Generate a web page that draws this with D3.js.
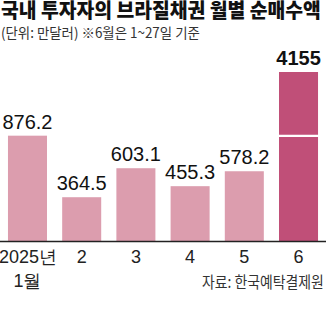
<!DOCTYPE html>
<html>
<head>
<meta charset="utf-8">
<script src="https://cdn.jsdelivr.net/npm/d3@7/dist/d3.min.js"></script>
<style>
html,body{margin:0;padding:0;background:#fff;}
svg{display:block;}
</style>
</head>
<body>
<svg id="chart" width="326" height="335"></svg>
<script>
// ---- data ----
const title = "국내 투자자의 브라질채권 월별 순매수액";
const subtitle = "(단위: 만달러)  ※6월은 1~27일 기준";
const source = "자료: 한국예탁결제원";
const months = ["2025년|1월", "2", "3", "4", "5", "6"];
const values = [876.2, 364.5, 603.1, 455.3, 578.2, 4155];
const valueLabels = ["876.2", "364.5", "603.1", "455.3", "578.2", "4155"];
const highlight = [false, false, false, false, false, true];
const breakValue = 870; // axis break for the tall June bar

// ---- layout ----
const W = 326, H = 335;
const baseY = 241.5;
const pxPerUnit = 0.1215;
const topY = 72;
const numFont = "'Liberation Sans Narrow','Arial Narrow','Liberation Sans',sans-serif";
const korFont = "'Noto Sans CJK KR','Noto Sans',sans-serif";
const colLight = "#dc9dae";
const colDark = "#c04f78";

const svg = d3.select("#chart");

const x = d3.scaleBand().domain(months).range([0, W]).paddingInner(0.28).paddingOuter(0.147);
const y = d3.scaleLinear()
  .domain([0, breakValue, d3.max(values)])
  .range([baseY, baseY - breakValue * pxPerUnit, topY]);

// fit a text horizontally to a target width by scaling its x axis
function fitText(sel, left, baseline, width) {
  const w = sel.node().getComputedTextLength();
  sel.attr("transform", `translate(${left},${baseline}) scale(${width / w},1)`);
}

// title
const tTitle = svg.append("text").attr("x", 0).attr("y", 0)
  .attr("font-family", korFont).attr("font-weight", 900).attr("font-size", 20)
  .attr("fill", "#111").text(title);
fitText(tTitle, 1, 18, 320);
const tSub = svg.append("text").attr("x", 0).attr("y", 0)
  .attr("font-family", korFont).attr("font-size", 14)
  .attr("fill", "#333").text(subtitle);
fitText(tSub, 1, 38, 199);

// bars
const data = months.map((m, i) => ({m, v: values[i], label: valueLabels[i], hi: highlight[i]}));
svg.selectAll("rect.bar").data(data).enter().append("rect")
  .attr("class", "bar")
  .attr("x", d => x(d.m)).attr("width", x.bandwidth())
  .attr("y", d => y(d.v)).attr("height", d => baseY - y(d.v))
  .attr("fill", d => d.hi ? colDark : colLight);

// break line on bars exceeding break value
svg.selectAll("line.brk").data(data.filter(d => d.v > breakValue * 1.5)).enter().append("line")
  .attr("class", "brk")
  .attr("x1", d => x(d.m) - 1).attr("x2", d => x(d.m) + x.bandwidth() + 1)
  .attr("y1", y(breakValue)).attr("y2", y(breakValue))
  .attr("stroke", "#fff").attr("stroke-width", 2.2);

// value labels
svg.selectAll("text.val").data(data).enter().append("text")
  .attr("class", "val")
  .attr("x", d => x(d.m) + x.bandwidth() / 2)
  .attr("y", d => y(d.v) - 7)
  .attr("text-anchor", "middle")
  .attr("font-family", numFont).attr("font-size", 20)
  .attr("font-weight", d => d.hi ? 700 : 400)
  .attr("fill", "#111")
  .text(d => d.label);

// baseline
svg.append("line").attr("x1", 0).attr("x2", W).attr("y1", baseY).attr("y2", baseY)
  .attr("stroke", "#222").attr("stroke-width", 1.3);

// category labels
const cat = svg.selectAll("text.cat").data(data).enter().append("text")
  .attr("class", "cat")
  .attr("text-anchor", "middle")
  .attr("font-family", numFont).attr("font-size", 18).attr("fill", "#222");
cat.each(function(d) {
  const parts = d.m.split("|");
  const t = d3.select(this);
  parts.forEach((p, j) => {
    t.append("tspan").attr("x", x(d.m) + x.bandwidth() / 2 + (j === 0 && parts.length > 1 ? 0.5 : 0))
      .attr("y", baseY + 21.5 + j * 24)
      .text(p);
  });
});

// source
const tSrc = svg.append("text").attr("x", 0).attr("y", 0)
  .attr("font-family", korFont).attr("font-size", 16).attr("fill", "#333")
  .text(source);
fitText(tSrc, 202, 288, 122);
</script>
</body>
</html>
